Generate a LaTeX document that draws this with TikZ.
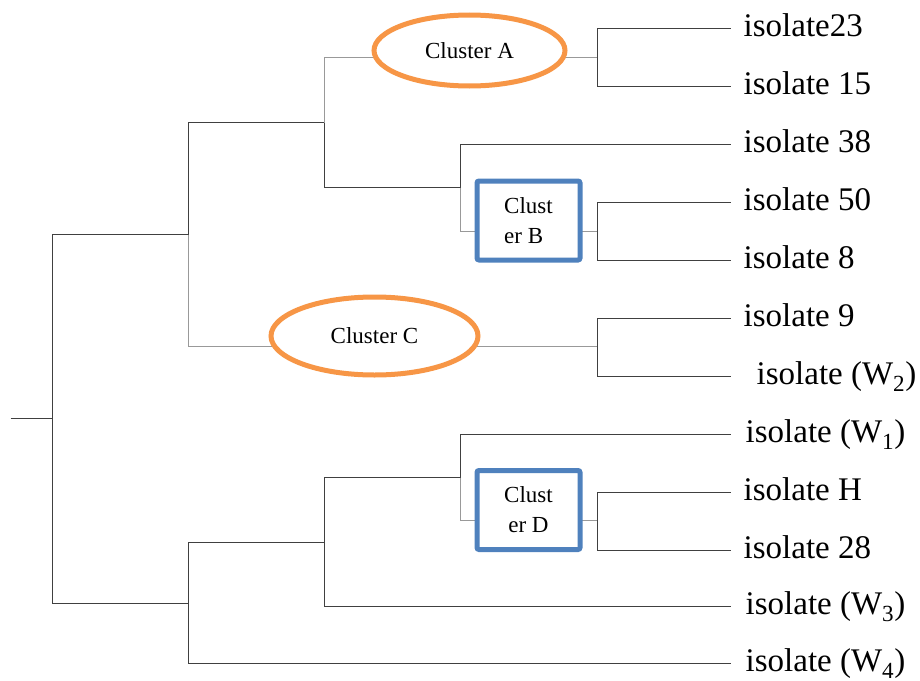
\documentclass[tikz,border=0pt]{standalone}
\usepackage{fontspec}
\setmainfont{Liberation Serif}
\usetikzlibrary{shapes.geometric}
\definecolor{clorange}{HTML}{F79646}
\definecolor{clblue}{HTML}{4F81BD}

\begin{document}
\begin{tikzpicture}[x=1pt,y=-1pt,
        branch/.style={draw=black!75,line width=1pt},
        faint/.style={draw=black!40,line width=1pt},
        leaf/.style={anchor=west,inner sep=0pt,inner xsep=13pt,font=\fontsize{33}{40}\selectfont,text height=23pt,text depth=7pt},
        oval/.style={ellipse,draw=clorange,line width=5pt,fill=white,inner sep=0pt,font=\fontsize{23}{28}\selectfont},
        box/.style={rectangle,draw=clblue,line width=5pt,fill=white,rounded corners=2pt,minimum width=103pt,minimum height=79pt,font=\fontsize{23}{30}\selectfont}]
        \useasboundingbox (-0.5,-0.5) rectangle (919.5,679.5);

        % inner nodes of the tree
        \coordinate (root) at (10,418);
        \coordinate (n0) at (52,418);
        \coordinate (n1) at (188,234);
        \coordinate (n2) at (324,122);
        \coordinate (n3) at (460,187);
        \coordinate (n4) at (188,603);
        \coordinate (n5) at (324,542);
        \coordinate (n6) at (460,477);
        \coordinate (kA) at (597,57);
        \coordinate (kB) at (597,231);
        \coordinate (kC) at (597,346);
        \coordinate (kD) at (597,520);

        % leaves
        \node[leaf] (i23) at (730,28) {isolate23};
        \node[leaf] (i15) at (730,86) {isolate 15};
        \node[leaf] (i38) at (730,144) {isolate 38};
        \node[leaf] (i50) at (730,202) {isolate 50};
        \node[leaf] (i8) at (730,260) {isolate 8};
        \node[leaf] (i9) at (730,318) {isolate 9};
        \node[leaf,inner xsep=26pt] (iW2) at (730,376) {isolate (W\textsubscript{2})};
        \node[leaf,inner xsep=15pt] (iW1) at (730,434) {isolate (W\textsubscript{1})};
        \node[leaf] (iH) at (730,492) {isolate H};
        \node[leaf] (i28) at (730,550) {isolate 28};
        \node[leaf,inner xsep=15pt] (iW3) at (730,606) {isolate (W\textsubscript{3})};
        \node[leaf,inner xsep=15pt] (iW4) at (730,663) {isolate (W\textsubscript{4})};

        % branches
        \draw[branch] (root) -- (n0);
        \draw[branch] (n1) -| (n0) |- (n4);
        \draw[branch] (n1) |- (n2);
        \draw[faint] (n1) |- (kC);
        \draw[branch] (n2) |- (n3);
        \draw[faint] (n2) |- (kA);
        \draw[branch] (n3) |- (i38.west);
        \draw[faint] (n3) |- (kB);
        \draw[branch] (n4) |- (n5);
        \draw[branch] (n4) |- (iW4.west);
        \draw[branch] (n5) |- (n6);
        \draw[branch] (n5) |- (iW3.west);
        \draw[branch] (n6) |- (iW1.west);
        \draw[faint] (n6) |- (kD);
        \draw[branch] (i23.west) -| (kA) |- (i15.west);
        \draw[branch] (i50.west) -| (kB) |- (i8.west);
        \draw[branch] (i9.west) -| (kC) |- (iW2.west);
        \draw[branch] (iH.west) -| (kD) |- (i28.west);

        % clusters
        \node[oval,minimum width=191pt,minimum height=71pt] (cA) at (469,50) {Cluster A};
        \node[oval,minimum width=207pt,minimum height=78pt] (cC) at (374,335.5) {Cluster C};
        \node[box,align=left] (cB) at (528,220) {Clust\\er B};
        \node[box,align=center] (cD) at (528,509.5) {Clust\\er D};
    \end{tikzpicture}
\end{document}
